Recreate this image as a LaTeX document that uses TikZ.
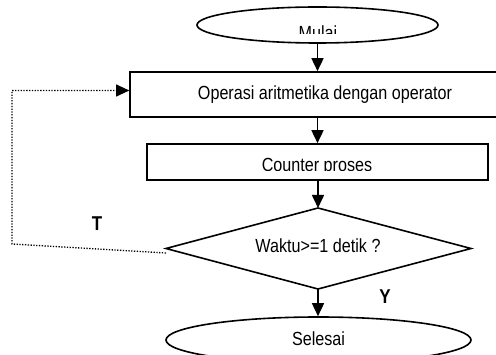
\documentclass[tikz,border=0pt]{standalone}
\usepackage{fontspec}
\setmainfont{Liberation Sans}[FakeStretch=0.85]
\usetikzlibrary{shapes.geometric,arrows.meta}
\begin{document}
\begin{tikzpicture}[x=1pt,y=-1pt,
  line width=1.6pt,
  arr/.style={-{Triangle[length=13pt,width=12pt]}},
  loopline/.style={line width=1.3pt,dash pattern=on 1.3pt off 1.5pt,black},
  term/.style={draw,ellipse,inner sep=0pt},
  procbox/.style={draw,rectangle,inner sep=0pt},
  lbl/.style={font=\fontsize{19}{21}\selectfont},
  yt/.style={font=\fontsize{20}{22}\selectfont\bfseries}]
\useasboundingbox (0,0) rectangle (496,355);
\clip (0,0) rectangle (496,355);
% shapes
\node[term,minimum width=241pt,minimum height=36pt] (start) at (317.5,25) {};
\node[procbox,minimum width=385pt,minimum height=45pt] (op) at (322.5,94.5) {};
\node[procbox,minimum width=341pt,minimum height=36pt] (cnt) at (317.5,162) {};
\coordinate (dN) at (318,208);
\coordinate (dS) at (318,289);
\coordinate (dW) at (166,248.5);
\coordinate (dE) at (471,248.5);
\draw (dN) -- (dE) -- (dS) -- (dW) -- cycle;
\node[term,minimum width=305pt,minimum height=46pt] (end) at (318.5,340) {};
% texts
\begin{scope}
  \clip (150,0) rectangle (480,33.5);
  \node[lbl,anchor=base] (tstart) at (318,39.5) {Mulai};
\end{scope}
\node[lbl,anchor=base] (top) at (325,100) {Operasi aritmetika dengan operator};
\begin{scope}
  \clip (150,140) rectangle (480,170.5);
  \node[lbl,anchor=base] (tcnt) at (317,171.5) {Counter proses};
\end{scope}
\node[lbl,anchor=base] (tdia) at (318,252.5) {Waktu>=1 detik ?};
\node[lbl,anchor=base] (tend) at (318.5,346) {Selesai};
\node[yt,anchor=base] (T) at (97,231) {T};
\node[yt,anchor=base] (Y) at (385,303.5) {Y};
% connectors
\draw[arr] (start.south) -- (op.north -| start.south);
\draw[arr] (op.south -| start.south) -- (cnt.north -| start.south);
\draw[arr] (cnt.south -| dN) -- (dN);
\draw[arr] (dS) -- (end.north -| dS);
\coordinate (lb) at (12,244);
\coordinate (lt) at (12,90.5);
\draw[loopline] ([yshift=-4.5pt]dW) -- (lb) -- (lt) -- (lt -| op.west);
\draw[arr,line width=1pt] ([xshift=-12pt]lt -| op.west) -- (lt -| op.west);
\end{tikzpicture}
\end{document}
